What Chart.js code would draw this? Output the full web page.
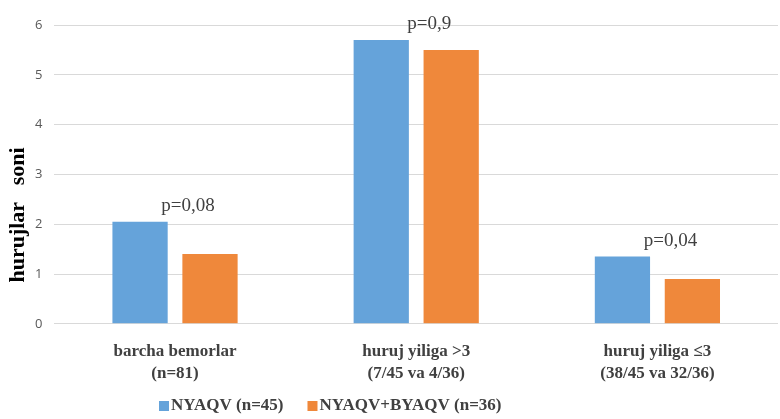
<!DOCTYPE html>
<html>
<head>
<meta charset="utf-8">
<script src="https://cdn.jsdelivr.net/npm/chart.js@4.4.1/dist/chart.umd.min.js"></script>
<style>
  html, body { margin: 0; padding: 0; background: #fff; }
  #wrap { width: 780px; height: 419px; }
</style>
</head>
<body>
<div id="wrap"><canvas id="hurujChart"></canvas></div>
<script>
const categories = [
    ['barcha bemorlar', '(n=81)'],
    ['huruj yiliga >3', '(7/45 va 4/36)'],
    ['huruj yiliga \u22643', '(38/45 va 32/36)']
];
const seriesNames = ['NYAQV (n=45)', 'NYAQV+BYAQV (n=36)'];
const nyaqvValues = [2.05, 5.7, 1.35];
const byaqvValues = [1.4, 5.5, 0.9];
const pLabels = ['p=0,08', 'p=0,9', 'p=0,04'];
const yTicks = [0, 1, 2, 3, 4, 5, 6];

const blue = '#65A3DA';
const orange = '#EF883B';
const serif = '"Liberation Serif", "Times New Roman", serif';

/** p-values above each group, the y title and the legend, drawn by hand */
const extrasPlugin = {
    id: 'extras',
    afterDatasetsDraw(chart) {
        const ctx = chart.ctx;
        const x = chart.scales.x;
        const y = chart.scales.y;
        ctx.save();
        ctx.fillStyle = '#404040';
        ctx.font = '19px ' + serif;
        ctx.textAlign = 'center';
        ctx.textBaseline = 'bottom';
        pLabels.forEach(function (label, i) {
            let top = Math.max(nyaqvValues[i], byaqvValues[i]);
            ctx.fillText(label, x.getPixelForValue(i) + 13, y.getPixelForValue(top) - 6);
        });

        // y axis title
        ctx.translate(18, 215);
        ctx.rotate(-Math.PI / 2);
        ctx.font = 'bold 22px ' + serif;
        ctx.fillStyle = '#000';
        ctx.textBaseline = 'middle';
        ctx.fillText('hurujlar   soni', 0, 0);
        ctx.restore();

        // legend
        ctx.save();
        ctx.font = 'bold 17px ' + serif;
        ctx.textBaseline = 'middle';
        ctx.textAlign = 'left';
        let lx = 159;
        const ly = 406;
        const colors = [blue, orange];
        seriesNames.forEach(function (name, i) {
            ctx.fillStyle = colors[i];
            ctx.fillRect(lx, ly - 5, 10, 10);
            ctx.fillStyle = '#404040';
            ctx.fillText(name, lx + 12, ly);
            lx += 12 + ctx.measureText(name).width + 24;
        });
        ctx.restore();
    }
};

let ctxB = document.getElementById('hurujChart').getContext('2d');

let myBarChart = new Chart(ctxB, {
    type: 'bar',
    data: {
        labels: categories,
        datasets: [
            {
                label: seriesNames[0],
                data: nyaqvValues,
                backgroundColor: blue,
                categoryPercentage: 0.58,
                barPercentage: 0.79
            },
            {
                label: seriesNames[1],
                data: byaqvValues,
                backgroundColor: orange,
                categoryPercentage: 0.58,
                barPercentage: 0.79
            }
        ]
    },
    options: {
        responsive: true,
        maintainAspectRatio: false,
        animation: false,
        layout: {
            padding: { left: 23, right: 2, top: 25, bottom: 25 }
        },
        plugins: {
            legend: { display: false },
            tooltip: { enabled: false }
        },
        scales: {
            x: {
                grid: { display: false },
                border: { display: false },
                ticks: {
                    color: '#404040',
                    padding: 9,
                    font: { family: serif, size: 17, weight: 'bold', lineHeight: 1.3 }
                }
            },
            y: {
                min: 0,
                max: 6,
                afterBuildTicks: function (axis) {
                    axis.ticks = yTicks.map(function (v) { return { value: v }; });
                },
                grid: { color: '#D9D9D9', drawTicks: false },
                border: { display: false },
                ticks: {
                    color: '#595959',
                    padding: 12,
                    font: { family: '"Open Sans", sans-serif', size: 13 }
                }
            }
        }
    },
    plugins: [extrasPlugin]
});
</script>
</body>
</html>
